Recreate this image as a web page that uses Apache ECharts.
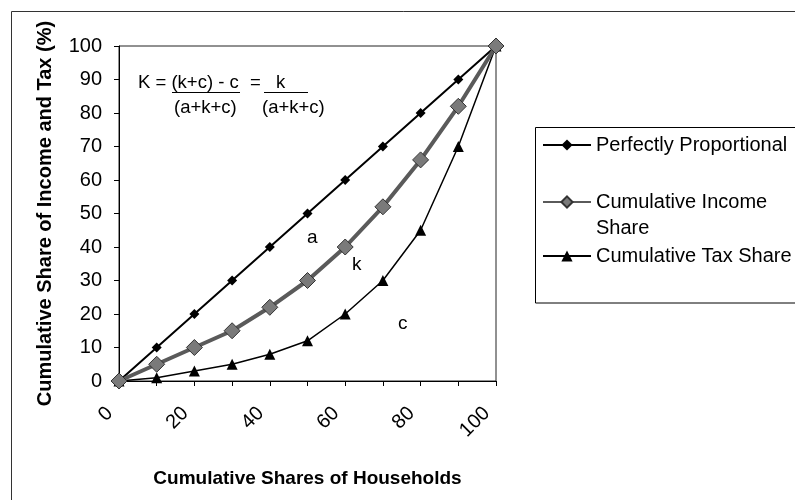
<!DOCTYPE html>
<html>
<head>
<meta charset="utf-8">
<script src="https://cdn.jsdelivr.net/npm/echarts@6/dist/echarts.min.js"></script>
<style>
  html, body { margin: 0; padding: 0; background: #fff; }
  #chart { width: 795px; height: 500px; }
</style>
</head>
<body>
<div id="chart"></div>
<script>
// cumulative shares of households (x)
const households = [0, 10, 20, 30, 40, 50, 60, 70, 80, 90, 100]
const proportional = [0, 10, 20, 30, 40, 50, 60, 70, 80, 90, 100]
const incomeShare = [0, 5, 10, 15, 22, 30, 40, 52, 66, 82, 100]
const taxShare = [0, 1, 3, 5, 8, 12, 20, 30, 45, 70, 100]
const xLabels = [0, 20, 40, 60, 80, 100]
const seriesNames = ['Perfectly Proportional', 'Cumulative Income Share', 'Cumulative Tax Share']

const FONT = '"Liberation Sans", Arial, sans-serif'

const pairs = (ys) => households.map((x, i) => [x, ys[i]])

const chart = echarts.init(document.getElementById('chart'))

// one legend per entry so each row can sit where the original has it
const legendTops = [133, 163, 244]
const legends = seriesNames.map((name, i) => ({
    orient: 'vertical',
    left: 542,
    top: legendTops[i],
    padding: 0,
    itemWidth: 48,
    itemHeight: 14,
    textStyle: { fontSize: 20, color: '#000', lineHeight: i === 1 ? 26 : 24, fontFamily: FONT },
    formatter: (n) => (n === 'Cumulative Income Share' ? '\nCumulative Income\nShare' : n),
    data: [name],
}))

const option = {
    backgroundColor: '#fff',
    animation: false,
    textStyle: { fontFamily: FONT, color: '#000' },
    grid: {
        left: 119,
        top: 46,
        width: 377,
        height: 335,
        show: true,
        borderColor: '#222',
        borderWidth: 1,
        backgroundColor: 'transparent',
    },
    xAxis: {
        type: 'value',
        min: 0,
        max: 100,
        interval: 10,
        name: 'Cumulative Shares of Households',
        nameLocation: 'middle',
        nameGap: 88,
        nameTextStyle: { fontSize: 19, fontWeight: 'bold', color: '#000', fontFamily: FONT },
        axisLine: { show: true, lineStyle: { color: '#000', width: 1 } },
        axisTick: { show: true, inside: false, length: 5, lineStyle: { color: '#000' } },
        axisLabel: {
            rotate: 45,
            fontSize: 20,
            color: '#000',
            margin: 20,
            padding: [0, 13, 0, 0],
            formatter: (v) => (xLabels.indexOf(v) >= 0 ? String(v) : ''),
        },
        splitLine: { show: false },
    },
    yAxis: {
        type: 'value',
        min: 0,
        max: 100,
        interval: 10,
        name: 'Cumulative Share of Income and Tax (%)',
        nameLocation: 'middle',
        nameGap: 64,
        nameRotate: 90,
        nameTextStyle: { fontSize: 20, fontWeight: 'bold', color: '#000', fontFamily: FONT },
        axisLine: { show: true, lineStyle: { color: '#000', width: 1 } },
        axisTick: { show: true, inside: false, length: 5, lineStyle: { color: '#000' } },
        axisLabel: { fontSize: 20, color: '#000', margin: 17 },
        splitLine: { show: false },
    },
    legend: legends,
    graphic: [
        // outer chart frame
        {
            type: 'rect',
            shape: { x: 11.5, y: 11.5, width: 900, height: 600 },
            style: { fill: 'none', stroke: '#333', lineWidth: 1 },
            silent: true,
            z: -10,
        },
        // legend box
        {
            type: 'rect',
            shape: { x: 535.5, y: 127.5, width: 300, height: 175.5 },
            style: { fill: '#fff', stroke: '#000', lineWidth: 1 },
            silent: true,
            z: -5,
        },
        // formula
        { type: 'text', left: 138, top: 73, style: { text: 'K = (k+c) - c', font: '18.5px ' + FONT, fill: '#000' } },
        { type: 'text', left: 250, top: 73, style: { text: '=', font: '18.5px ' + FONT, fill: '#000' } },
        { type: 'text', left: 276, top: 73, style: { text: 'k', font: '18.5px ' + FONT, fill: '#000' } },
        { type: 'text', left: 174, top: 98, style: { text: '(a+k+c)', font: '18.5px ' + FONT, fill: '#000' } },
        { type: 'text', left: 262, top: 98, style: { text: '(a+k+c)', font: '18.5px ' + FONT, fill: '#000' } },
        { type: 'line', shape: { x1: 172, y1: 92.5, x2: 240, y2: 92.5 }, style: { stroke: '#000', lineWidth: 1 } },
        { type: 'line', shape: { x1: 264, y1: 92.5, x2: 308, y2: 92.5 }, style: { stroke: '#000', lineWidth: 1 } },
        // area labels
        { type: 'text', left: 307, top: 228, style: { text: 'a', font: '19px ' + FONT, fill: '#000' } },
        { type: 'text', left: 352, top: 255, style: { text: 'k', font: '19px ' + FONT, fill: '#000' } },
        { type: 'text', left: 398, top: 314, style: { text: 'c', font: '19px ' + FONT, fill: '#000' } },
    ],
    series: [
        {
            name: seriesNames[0],
            type: 'line',
            data: pairs(proportional),
            symbol: 'diamond',
            symbolSize: 10,
            lineStyle: { color: '#000', width: 2 },
            itemStyle: { color: '#000' },
            z: 3,
        },
        {
            name: seriesNames[1],
            type: 'line',
            data: pairs(incomeShare),
            symbol: 'diamond',
            symbolSize: 16,
            lineStyle: { color: '#5a5a5a', width: 4 },
            itemStyle: { color: '#7a7a7a', borderColor: '#333', borderWidth: 1 },
            z: 4,
        },
        {
            name: seriesNames[2],
            type: 'line',
            data: pairs(taxShare),
            symbol: 'triangle',
            symbolSize: 11,
            lineStyle: { color: '#000', width: 1.5 },
            itemStyle: { color: '#000' },
            z: 2,
        },
    ],
}

chart.setOption(option)
</script>
</body>
</html>
